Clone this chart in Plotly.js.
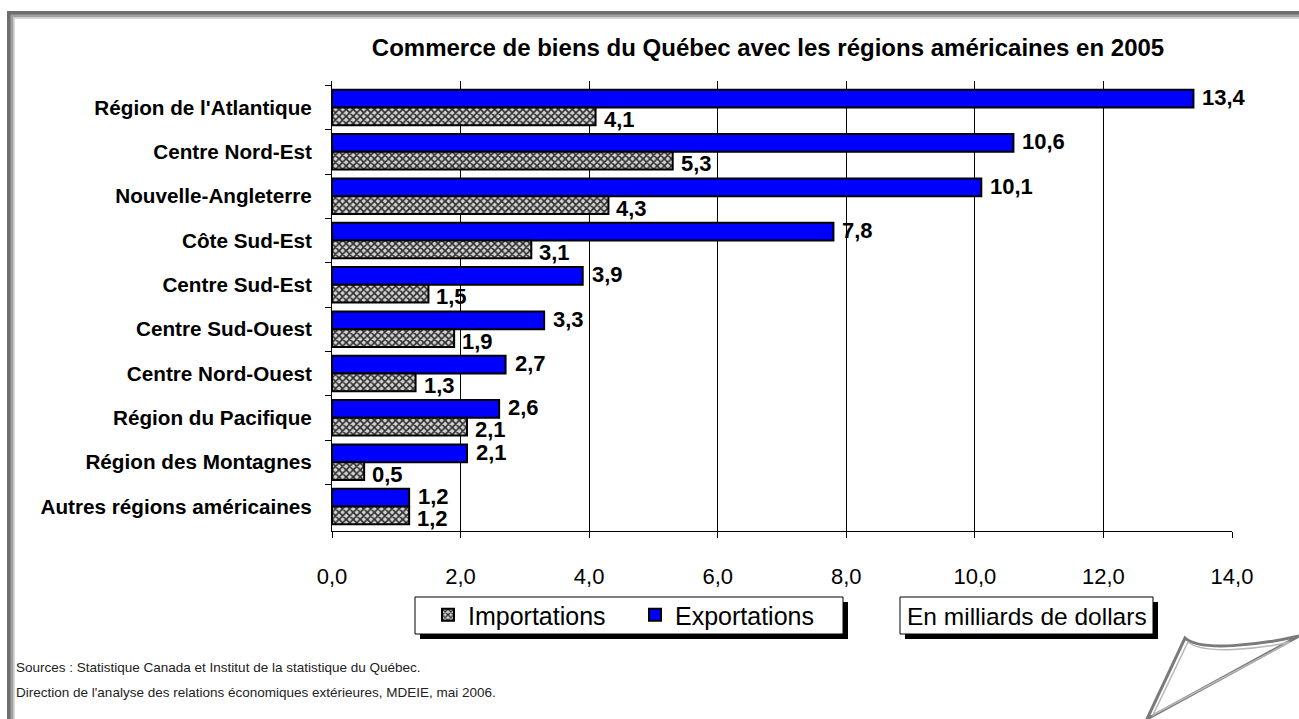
<!DOCTYPE html>
<html>
<head>
<meta charset="utf-8">
<script src="https://cdn.plot.ly/plotly-3.0.1.min.js"></script>
<style>html,body{margin:0;padding:0;background:#fff;}#chart{width:1299px;height:719px;}</style>
</head>
<body>
<div id="chart"></div>
<script>
const categories = ["Région de l'Atlantique","Centre Nord-Est","Nouvelle-Angleterre","Côte Sud-Est","Centre Sud-Est","Centre Sud-Ouest","Centre Nord-Ouest","Région du Pacifique","Région des Montagnes","Autres régions américaines"];
const exportations = [13.4,10.6,10.1,7.8,3.9,3.3,2.7,2.6,2.1,1.2];
const importations = [4.1,5.3,4.3,3.1,1.5,1.9,1.3,2.1,0.5,1.2];
const xTicks = [0,2,4,6,8,10,12,14];

const FONT = "Liberation Sans, Arial, sans-serif";
const L = 332, R = 67, T = 81, B = 188;
const PW = 1299 - L - R, PH = 719 - T - B;
const px = v => (v - L) / PW;
const py = v => (719 - B - v) / PH;
const fmt = v => v.toFixed(1).replace('.', ',');

const traces = [
  {type:'bar', orientation:'h', name:'Exportations', y:categories, x:exportations,
   marker:{color:'#0000FF', line:{color:'#000', width:2}}, hoverinfo:'skip'},
  {type:'bar', orientation:'h', name:'Importations', y:categories, x:importations,
   marker:{color:'#a0a0a0', line:{color:'#000', width:2},
     pattern:{shape:'x', bgcolor:'#d4d4d4', fgcolor:'#2e2e2e', size:5, solidity:0.55}}, hoverinfo:'skip'}
];

function rect(x0,y0,x1,y1,opts){
  return Object.assign({type:'rect', xref:'paper', yref:'paper', x0:px(x0), x1:px(x1), y0:py(y0), y1:py(y1)}, opts);
}

const shapes = [
  rect(9,13,1320,740,{line:{color:'#6e6e6e', width:4}, layer:'below'}),
  rect(12,16,1317,737,{line:{color:'#a0a0a0', width:3}, layer:'below'}),
  rect(14,18,1315,735,{line:{color:'#cccccc', width:1.5}, layer:'below'}),
  rect(420,602,848,639,{fillcolor:'#000', line:{width:0}, layer:'above'}),
  rect(415,597,843,634,{fillcolor:'#fff', line:{color:'#000', width:1}, layer:'above'}),
  rect(905,602,1158,639,{fillcolor:'#000', line:{width:0}, layer:'above'}),
  rect(900,597,1153,634,{fillcolor:'#fff', line:{color:'#000', width:1}, layer:'above'}),
  {type:'path', xref:'paper', yref:'paper', layer:'above',
   path: 'M' + px(1185)+','+py(638) + ' C' + px(1200)+','+py(652)+' '+px(1260)+','+py(645)+' '+px(1299)+','+py(636) + ' L' + px(1147)+','+py(719) + ' Z',
   fillcolor:'#fff', line:{color:'#7a7a7a', width:3}},
  {type:'path', xref:'paper', yref:'paper', layer:'above',
   path: 'M' + px(1188)+','+py(642) + ' C' + px(1203)+','+py(655)+' '+px(1260)+','+py(649)+' '+px(1290)+','+py(642) + ' L' + px(1153)+','+py(715) + ' Z',
   fillcolor:'rgba(0,0,0,0)', line:{color:'#b8b8b8', width:1.5}}
];

const labelFont = {family:FONT, size:22, color:'#000', weight:'bold'};
const annotations = [];
categories.forEach((c, i) => {
  annotations.push({xref:'x', yref:'y', x:exportations[i], y:c, text:fmt(exportations[i]), showarrow:false,
    xanchor:'left', yanchor:'middle', xshift:7, yshift:10, font:labelFont});
  annotations.push({xref:'x', yref:'y', x:importations[i], y:c, text:fmt(importations[i]), showarrow:false,
    xanchor:'left', yanchor:'middle', xshift:6, yshift:-12, font:labelFont});
});
annotations.push(
  {xref:'paper', yref:'paper', x:px(1027), y:py(616), text:'En milliards de dollars', showarrow:false,
   xanchor:'center', yanchor:'middle', font:{family:FONT, size:24.5, color:'#000'}},
  {xref:'paper', yref:'paper', x:px(14), y:py(667), text:'Sources : Statistique Canada et Institut de la statistique du Québec.', showarrow:false,
   xanchor:'left', yanchor:'middle', font:{family:FONT, size:13.5, color:'#222'}},
  {xref:'paper', yref:'paper', x:px(14), y:py(692), text:"Direction de l'analyse des relations économiques extérieures, MDEIE, mai 2006.", showarrow:false,
   xanchor:'left', yanchor:'middle', font:{family:FONT, size:13.5, color:'#222'}}
);

const layout = {
  width:1299, height:719,
  margin:{l:L, r:R, t:T, b:B, pad:0},
  paper_bgcolor:'#fff', plot_bgcolor:'#fff',
  separators:', ',
  barmode:'group', bargap:0.2, bargroupgap:0,
  title:{text:'Commerce de biens du Québec avec les régions américaines en 2005',
    x:768/1299, xanchor:'center', xref:'container', y:1-48/719, yanchor:'middle', yref:'container',
    font:{family:FONT, size:24, color:'#000', weight:'bold'}},
  xaxis:{range:[0,14], tickvals:xTicks, tickformat:'.1f', ticks:'outside', ticklen:6, tickcolor:'#000',
    showline:true, linecolor:'#000', linewidth:1, showgrid:true, gridcolor:'#000', gridwidth:1,
    zeroline:false, ticklabelstandoff:20, tickfont:{family:FONT, size:22, color:'#000'}, fixedrange:true},
  yaxis:{type:'category', autorange:'reversed', ticks:'outside', ticklen:6, tickcolor:'#000', tickson:'boundaries',
    showline:true, linecolor:'#000', linewidth:1, showgrid:false, zeroline:false, ticklabelstandoff:15,
    tickfont:{family:FONT, size:20.7, color:'#000', weight:'bold'}, fixedrange:true},
  showlegend:true,
  legend:{orientation:'h', traceorder:'reversed', x:px(428), xanchor:'left', y:py(592), yanchor:'top',
    bgcolor:'rgba(0,0,0,0)', borderwidth:0, entrywidth:162, entrywidthmode:'pixels',
    font:{family:FONT, size:25, color:'#000'}},
  shapes:shapes,
  annotations:annotations
};

Plotly.newPlot('chart', traces, layout, {displayModeBar:false, staticPlot:true});
</script>
</body>
</html>
